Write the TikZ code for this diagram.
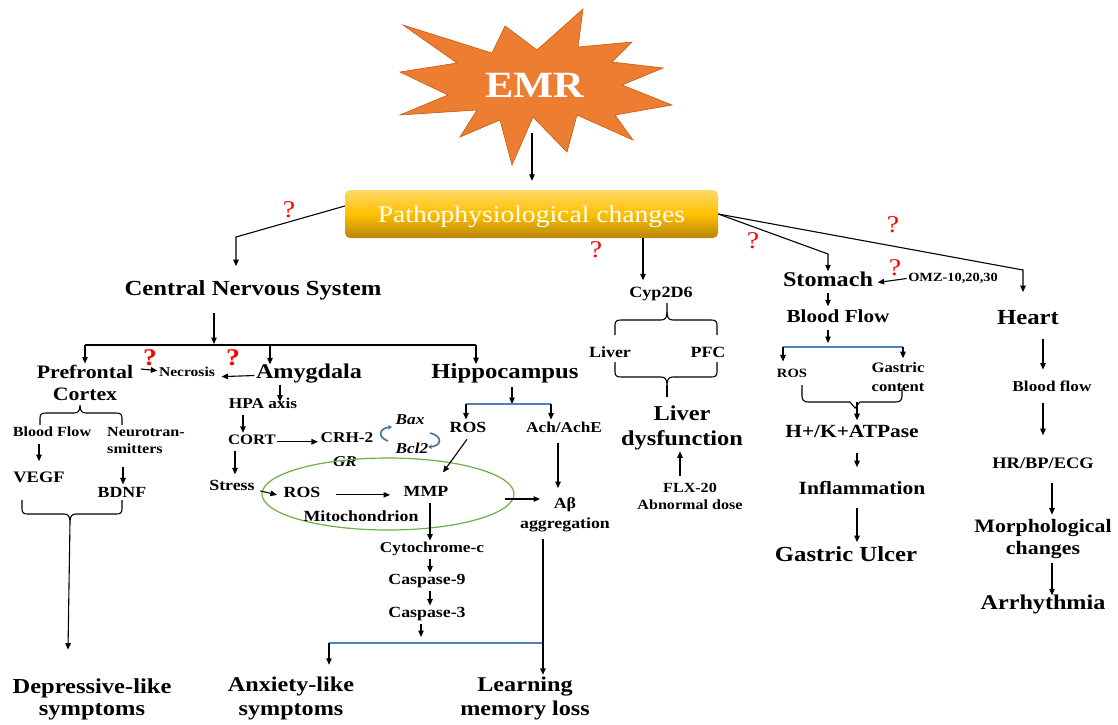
\documentclass[tikz,border=0pt]{standalone}
\usepackage{fontspec}
\setmainfont{Liberation Serif}[FakeStretch=1.15]
\usetikzlibrary{arrows.meta,shapes.geometric}
\newcommand\fsz[2]{\fontsize{#1pt}{#2pt}\selectfont}
\definecolor{emr}{HTML}{ED7D31}
\definecolor{emrd}{HTML}{C55A11}
\definecolor{barblue}{HTML}{4F81BD}
\definecolor{curlb}{HTML}{41719C}
\definecolor{mitog}{HTML}{70AD47}
\definecolor{goldt}{HTML}{FFD966}
\definecolor{goldm}{HTML}{FFC000}
\definecolor{goldb}{HTML}{B8860B}
\tikzset{
  n/.style={inner sep=1.5pt, font=\bfseries\fsz{#1}{#1}, execute at begin node=\strut, yshift=-0.12*#1pt},
  ni/.style={inner sep=1.5pt, font=\bfseries\itshape\fsz{#1}{#1}},
  m/.style 2 args={inner sep=1.5pt, align=center, font=\bfseries\fsz{#1}{#2}},
  qm/.style={inner sep=0pt, text=red, font=\fsz{24}{24}},
  qmb/.style={inner sep=0pt, text=red, font=\bfseries\fsz{24}{24}},
  arr/.style={-{Triangle[length=6.5pt,width=5.5pt]}, line width=1.1pt},
  ln/.style={line width=1.1pt},
  bline/.style={line width=2.2pt, barblue},
  curl/.style={-{Stealth[length=4pt,width=4.5pt]}, line width=1.6pt, curlb},
}
\begin{document}
\begin{tikzpicture}[x=1pt,y=-1pt]
\useasboundingbox (0,0) rectangle (1118,724);

% EMR star
\draw[fill=emr, draw=emrd, line width=0.6pt]
 (403,25) -- (492,53) -- (505,26) -- (537,50) -- (583,9) -- (578,47) -- (632,42) -- (612,62)
 -- (663,68) -- (622,85) -- (672,105) -- (615,115) -- (633,140) -- (577,115) -- (567,152)
 -- (533,117) -- (512,165) -- (500,120) -- (460,137) -- (477,110) -- (400,115) -- (448,95)
 -- (400,72) -- (457,63) -- cycle;
\node[inner sep=0pt, text=white, font=\bfseries\fsz{37}{37}] (emrt) at (535,85) {EMR};
\coordinate (starb) at (532,133);

% Pathophysiological bar
\node[rounded corners=5pt, minimum width=373pt, minimum height=48pt, inner sep=0pt, text depth=0pt,
      top color=goldt, bottom color=goldb, middle color=goldm,
      text=white, font=\fsz{24}{24}] (patho) at (531.5,214) {Pathophysiological changes};
\draw[arr, shorten >=9pt] (starb) -- (starb |- patho.north);

% question marks
\node[qm] (q1) at (289,210) {?};
\node[qm] (q2) at (596,250) {?};
\node[qm] (q3) at (753,241) {?};
\node[qm] (q4) at (893,225) {?};
\node[qm] (q5) at (895,268) {?};
\node[qmb] (q6) at (150,358) {?};
\node[qmb] (q7) at (233,358) {?};

% ---------- CNS ----------
\node[n=21.5] (cns) at (253,289) {Central Nervous System};
\coordinate (ck) at (236,237);
\draw[arr, shorten >=13pt] ([yshift=8pt]patho.west) -- (ck) -- (ck |- cns.north);
\coordinate (cnsj) at (214,345);
\coordinate (bl) at (85,345);
\coordinate (ja) at (270,345);
\coordinate (br) at (476,345);
\draw[arr, shorten <=9pt, shorten >=1pt] ([xshift=-39pt]cns.south) -- (cnsj);
\draw[ln] (bl) -- (br);

\node[m={19}{22}] (pfc) at (85,383) {Prefrontal\\Cortex};
\node[n=13.5] (necro) at (187,372) {Necrosis};
\node[n=21] (amyg) at (309,372) {Amygdala};
\node[n=21.5] (hip) at (505,372) {Hippocampus};
\draw[arr] (bl) -- (bl |- pfc.north);
\draw[arr, shorten >=-2pt] (ja) -- (ja |- amyg.north);
\draw[arr, shorten >=-2pt] (br) -- (br |- hip.north);
\draw[arr] ([xshift=6pt,yshift=14pt]pfc.east) -- ([yshift=3pt]necro.west);
\draw[arr] ([yshift=-1pt]amyg.west) -- ([xshift=5pt,yshift=-3pt]necro.east);

% Amygdala chain
\node[n=15] (hpa) at (263,404) {HPA axis};
\node[n=14.5] (cort) at (252,440) {CORT};
\node[n=15] (crh) at (347,438) {CRH-2};
\node[n=15.5] (stress) at (232,486) {Stress};
\draw[arr, shorten <=-2pt, shorten >=-5pt] ([xshift=-29pt]amyg.south) -- ([xshift=-29pt]amyg.south |- hpa.north);
\draw[arr] ([xshift=-20pt]hpa.south) -- ([xshift=-20pt]hpa.south |- cort.north);
\draw[arr, shorten >=1pt] (cort.east) -- (cort.east -| crh.west);
\draw[arr, shorten >=4pt] ([xshift=-17pt]cort.south) -- ([xshift=-17pt]cort.south |- stress.north);

% Bax / Bcl2
\node[ni=15] (bax) at (410,420) {Bax};
\node[ni=15] (bcl) at (412,448) {Bcl2};
\node[ni=15] (gr) at (345,462) {GR};
\draw[curl] (388,441) .. controls (377,437) and (379,428) .. (392,427);
\draw[curl] (430,433) .. controls (443,436) and (442,446) .. (428,447);

% Mitochondrion
\node[ellipse, draw=mitog, line width=1.2pt, minimum width=252pt, minimum height=72pt, inner sep=0pt] (mito) at (388,494) {};
\node[n=15.5] (ros1) at (302,493) {ROS};
\node[n=15.5] (mmp) at (426,492) {MMP};
\node[n=15.5] (mitol) at (361,517) {Mitochondrion};
\draw[arr] ([xshift=4pt,yshift=-3pt]stress.east) -- ([xshift=-5pt]ros1.west);
\draw[arr, shorten <=14pt, shorten >=12pt] (ros1.east) -- (ros1.east -| mmp.west);

% Hippocampus branch
\coordinate (hjm) at (512,404);
\coordinate (hbl) at (466,404);
\coordinate (hbr) at (551,404);
\draw[arr] ([xshift=7pt]hip.south) -- (hjm);
\draw[bline] (hbl) -- (hbr);
\node[n=15.5] (ros2) at (468,428) {ROS};
\node[n=15] (ach) at (564,428) {Ach/AchE};
\draw[arr, shorten >=1pt] (hbl) -- (hbl |- ros2.north);
\draw[arr, shorten >=1pt] (hbr) -- (hbr |- ach.north);
\draw[arr] ([xshift=-1pt]ros2.south) -- ([xshift=17pt,yshift=12pt]mmp.north);
\node[m={15.5}{20}] (abeta) at (565,515) {Aβ\\aggregation};
\draw[arr, shorten <=4pt, shorten >=8pt] ([xshift=-6pt]ach.south) -- ([xshift=-6pt]ach.south |- abeta.north);
\coordinate (abin) at (540,499);
\draw[arr] ([xshift=-10pt,yshift=-5pt]mito.east) -- (abin);

% apoptosis chain
\node[n=15] (cyt) at (432,548) {Cytochrome-c};
\node[n=15.5] (c9) at (427,580) {Caspase-9};
\node[n=15.5] (c3) at (427,613) {Caspase-3};
\draw[arr] ([xshift=4pt]mmp.south) -- ([xshift=4pt]mmp.south |- cyt.north);
\draw[arr] ([xshift=-2pt]cyt.south) -- ([xshift=-2pt]cyt.south |- c9.north);
\draw[arr] ([xshift=3pt]c9.south) -- ([xshift=3pt]c9.south |- c3.north);
\coordinate (bbl) at (329,643);
\coordinate (bbm) at (421,643);
\coordinate (bbr) at (543,643);
\draw[arr, shorten >=6pt] ([xshift=-6pt]c3.south) -- (bbm);
\draw[bline] (bbl) -- (bbr);
\node[m={21}{24}] (anx) at (291,698) {Anxiety-like\\symptoms};
\node[m={21}{24}] (learn) at (525,698) {Learning\\memory loss};
\draw[arr, shorten >=10pt] (bbl) -- (bbl |- anx.north);
\draw[arr, shorten <=5pt] ([xshift=-22pt]abeta.south) -- ([xshift=-22pt]abeta.south |- learn.north);

% Prefrontal branch
\draw[ln] (40,425) -- (40,418) .. controls (40,414) and (42,413) .. (46,413) -- (74,413)
  .. controls (78,413) and (80,411) .. (80,405) .. controls (80,411) and (82,413) .. (86,413)
  -- (116,413) .. controls (120,413) and (122,414) .. (122,418) -- (122,425);
\node[n=14] (bf1) at (52,432) {Blood Flow};
\node[m={14}{17}, align=left] (neuro) at (146,440.5) {Neurotran-\\smitters};
\node[n=16] (vegf) at (39,477) {VEGF};
\node[n=15.5] (bdnf) at (122,493) {BDNF};
\draw[arr, shorten <=2pt, shorten >=8pt] ([xshift=-13pt]bf1.south) -- ([xshift=-13pt]bf1.south |- vegf.north);
\draw[arr, shorten <=12pt, shorten >=1pt] ([xshift=-23pt]neuro.south) -- ([xshift=-23pt]neuro.south |- bdnf.north);
\draw[ln] (22,500) -- (22,509) .. controls (22,513) and (24,514) .. (28,514) -- (64,514)
  .. controls (68,514) and (70,516) .. (70,522) .. controls (70,516) and (72,514) .. (76,514)
  -- (116,514) .. controls (120,514) and (122,513) .. (122,509) -- (122,500);
\coordinate (dtip) at (70,522);
\node[m={21.3}{22}] (depress) at (92,699) {Depressive-like\\symptoms};
\draw[arr] (dtip) -- ([xshift=-24pt,yshift=27pt]depress.north);

% ---------- Liver ----------
\node[n=15.7] (cyp) at (661,292) {Cyp2D6};
\draw[arr, shorten >=4pt] ([xshift=111.5pt]patho.south) -- ([xshift=111.5pt]patho.south |- cyp.north);
\draw[ln] (615,335) -- (615,325) .. controls (615,321) and (617,320) .. (621,320) -- (661,320)
  .. controls (665,320) and (667,318) .. (667,312) -- (667,303);
\draw[ln] (667,312) .. controls (667,318) and (669,320) .. (673,320) -- (711,320)
  .. controls (715,320) and (717,321) .. (717,325) -- (717,335);
\node[n=15.6] (liv) at (610,352) {Liver};
\node[n=15.6] (pfc2) at (708,352) {PFC};
\draw[ln] (615,362) -- (615,372) .. controls (615,376) and (617,377) .. (621,377) -- (661,377)
  .. controls (665,377) and (667,379) .. (667,385) .. controls (667,379) and (669,377) .. (673,377)
  -- (711,377) .. controls (715,377) and (717,376) .. (717,372) -- (717,362);
\draw[ln] (667,385) -- (667,397);
\node[m={21.2}{25}] (ldys) at (682,427.5) {Liver\\dysfunction};
\node[m={14}{17}] (flx) at (690,496.5) {FLX-20\\Abnormal dose};
\draw[arr, shorten <=6pt] ([xshift=-10pt]flx.north) -- ([xshift=-10pt]flx.north |- ldys.south);

% ---------- Stomach ----------
\node[n=21] (stom) at (828,280) {Stomach};
\coordinate (sk) at (828,254);
\draw[arr, shorten >=-1pt] (patho.east) -- (sk) -- (sk |- stom.north);
\node[n=12.5] (omz) at (953,277) {OMZ-10,20,30};
\draw[arr] (omz.west) -- ([xshift=3pt]stom.east);
\node[n=18.4] (bf2) at (838,317) {Blood Flow};
\draw[arr, shorten <=-2pt, shorten >=2pt] ([xshift=-10pt]bf2.north |- stom.south) -- ([xshift=-10pt]bf2.north);
\coordinate (sbm) at (828,347);
\coordinate (sbl) at (783,347);
\coordinate (sbr) at (903,347);
\draw[arr, shorten >=4pt] ([xshift=-10pt]bf2.south) -- (sbm);
\draw[bline] (sbl) -- (sbr);
\node[n=12.7] (ros3) at (792,373) {ROS};
\node[m={14.5}{19}] (gas) at (898,377.5) {Gastric\\content};
\draw[arr, shorten >=5pt] (sbl) -- (sbl |- ros3.north);
\draw[arr, shorten >=3pt] (sbr) -- (sbr |- gas.north);
\draw[ln] (802,385) -- (802,396) .. controls (802,400) and (804,402) .. (808,402) -- (850,402)
  -- (855,408) -- (860,402) -- (896,402) .. controls (900,402) and (902,400) .. (902,396) -- (902,388);
\coordinate (sbt) at (857,402);
\node[n=18.6] (hk) at (852,432) {H+/K+ATPase};
\draw[arr, shorten >=3pt] (sbt) -- (sbt |- hk.north);
\node[n=18.7] (infl) at (862,488) {Inflammation};
\draw[arr, shorten <=8pt, shorten >=12pt] ([xshift=5pt]hk.south) -- ([xshift=5pt]hk.south |- infl.north);
\node[n=21.5] (ulc) at (846,555) {Gastric Ulcer};
\draw[arr, shorten <=7pt, shorten >=3pt] ([xshift=-5pt]infl.south) -- ([xshift=-5pt]infl.south |- ulc.north);

% ---------- Heart ----------
\node[n=21.5] (heart) at (1028,318) {Heart};
\coordinate (hk2) at (1023,270);
\draw[arr, shorten >=16pt] (patho.east) -- (hk2) -- (hk2 |- heart.north);
\node[n=15] (hbf) at (1052,387) {Blood flow};
\node[n=16] (hr) at (1043,463) {HR/BP/ECG};
\node[m={19}{22}] (morph) at (1043,539) {Morphological\\changes};
\node[n=21] (arrh) at (1043,603) {Arrhythmia};
\draw[arr, shorten <=6pt, shorten >=10pt] ([xshift=15pt]heart.south) -- ([xshift=15pt]heart.south |- hbf.north);
\draw[arr, shorten <=5pt, shorten >=20pt] ([xshift=-9pt]hbf.south) -- ([xshift=-9pt]hbf.south |- hr.north);
\draw[arr, shorten <=8pt, shorten >=3pt] ([xshift=9pt]hr.south) -- ([xshift=9pt]hr.south |- morph.north);
\draw[arr, shorten <=3pt, shorten >=-2pt] ([xshift=9pt]morph.south) -- ([xshift=9pt]morph.south |- arrh.north);
\end{tikzpicture}
\end{document}
